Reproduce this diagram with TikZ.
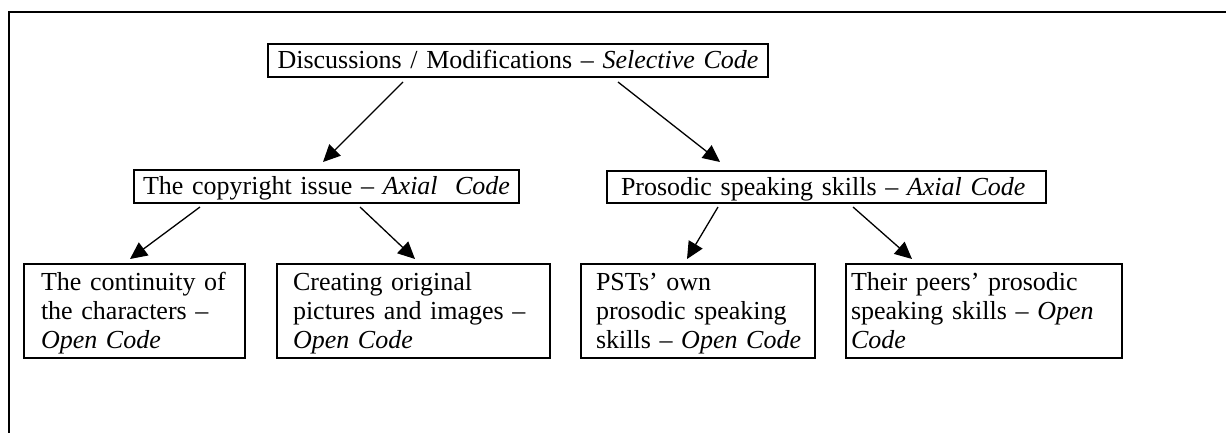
\documentclass[tikz,border=0pt]{standalone}
\usepackage{fontspec}
\setmainfont{Liberation Serif}
\usetikzlibrary{arrows.meta}
\newcommand{\mytopstrut}{\rule{0pt}{22pt}}
\newcommand{\mybotstrut}{\rule[-6pt]{0pt}{6pt}}
\begin{document}
\begin{tikzpicture}[x=1pt,y=-1pt,
  box/.style={draw, line width=2pt, rectangle, anchor=north west, inner ysep=0pt,
    font=\fontsize{26}{29}\selectfont},
  arr/.style={line width=1.3pt, -{Triangle[length=17pt,width=16pt]}},
  frame/.style={line width=2.2pt}]
\useasboundingbox (0,0) rectangle (1226,432);
\draw[frame] (9,450) -- (9,12) -- (1240,12);
% top
\node[box, text width=492pt, inner xsep=4pt, align=center, minimum height=33pt] (top) at (267,43)
  {\mytopstrut\mbox{Discussions / Modifications -- \textit{Selective Code}}\mybotstrut};
% axial
\node[box, text width=375pt, inner xsep=5pt, align=center, minimum height=33pt] (ax1) at (133,169)
  {\mytopstrut\mbox{The copyright issue -- \textit{Axial\ \ Code}}\mybotstrut};
\node[box, text width=411pt, inner xsep=14pt, align=left, minimum height=32pt] (ax2) at (606,170)
  {\mytopstrut\mbox{Prosodic speaking skills -- \textit{Axial Code}}\mybotstrut};
% open
\node[box, text width=187pt, inner xsep=17pt, align=left, minimum height=94pt] (b1) at (23,263)
  {\mytopstrut\mbox{The continuity of}\\\mbox{the characters --}\\\mbox{\textit{Open Code}}\mybotstrut};
\node[box, text width=241pt, inner xsep=16pt, align=left, minimum height=94pt] (b2) at (276,263)
  {\mytopstrut\mbox{Creating original}\\\mbox{pictures and images --}\\\mbox{\textit{Open Code}}\mybotstrut};
\node[box, text width=204pt, inner xsep=15pt, align=left, minimum height=94pt] (b3) at (580,263)
  {\mytopstrut\mbox{PSTs’ own}\\\mbox{prosodic speaking}\\\mbox{skills -- \textit{Open Code}}\mybotstrut};
\node[box, text width=266pt, inner xsep=5pt, align=left, minimum height=94pt] (b4) at (845,263)
  {\mytopstrut\mbox{Their peers’ prosodic}\\\mbox{speaking skills -- \textit{Open}}\\\mbox{\textit{Code}}\mybotstrut};
% arrows
\draw[arr] ([shift={(136,4)}]top.south west) -- ([shift={(190,-7)}]ax1.north west);
\draw[arr] ([shift={(351,4)}]top.south west) -- ([shift={(114,-8)}]ax2.north west);
\draw[arr] ([shift={(67,3)}]ax1.south west) -- ([shift={(107,-4)}]b1.north west);
\draw[arr] ([shift={(227,3)}]ax1.south west) -- ([shift={(139,-4)}]b2.north west);
\draw[arr] ([shift={(112,3)}]ax2.south west) -- ([shift={(107,-4)}]b3.north west);
\draw[arr] ([shift={(247,3)}]ax2.south west) -- ([shift={(67,-4)}]b4.north west);
\end{tikzpicture}
\end{document}
